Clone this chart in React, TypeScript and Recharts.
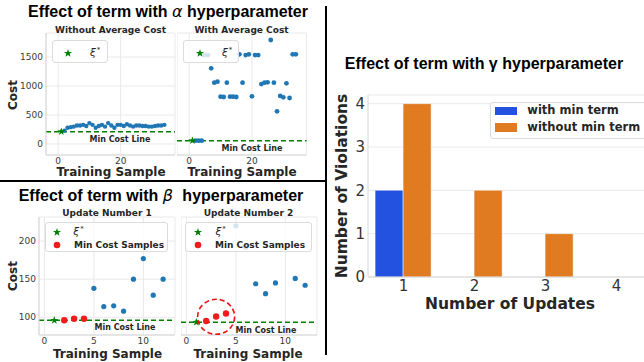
import React from "react";
import {
  Bar,
  BarChart,
  CartesianGrid,
  ReferenceLine,
  Scatter,
  ScatterChart,
  XAxis,
  YAxis,
} from "recharts";

// alpha panels: samples 2..34, star (xi*) sits on sample 1
const alphaSamples = [
  2, 3, 4, 5, 6, 7, 8, 9, 10, 11, 12, 13, 14, 15, 16, 17, 18, 19, 20, 21, 22,
  23, 24, 25, 26, 27, 28, 29, 30, 31, 32, 33, 34,
];
const costWithoutAvg = [
  230, 280, 290, 300, 320, 320, 330, 310, 360, 330, 280, 310, 330, 300, 360,
  320, 280, 330, 330, 310, 340, 320, 300, 320, 320, 310, 310, 300, 300, 310,
  320, 320, 330,
];
const costWithAvg = [
  57, 57, 57, 1534, 1534, 1305, 1057, 1074, 816, 810, 1057, 816, 816, 810, 1546,
  1057, 1534, 1546, 822, 1534, 1534, 1034, 1057, 1063, 1793, 1057, 563, 828,
  805, 1046, 793, 1546, 1546,
];
const alphaStarSample = [1];
const alphaMinCost = [212, 57];

// beta panels
const betaStarSample = [1];
const betaMinCost = [96, 93.5];
const minSamples = [2, 3, 4];
const update1MinCost = [96, 98, 98];
const update2MinCost = [95, 101, 105];
const update1Samples = [5, 6, 7, 8, 9, 10, 11, 12];
const update1Cost = [138, 114, 115, 108, 150, 177, 129, 150];
const update2Samples = [5, 6, 7, 8, 9, 11, 12];
const update2Cost = [220, 192, 144, 131, 145, 151, 142];
const highlightSample = [3];
const highlightCost = [100.6];

// gamma bars
const updates = ["1", "2", "3", "4"];
const violationsWithMin = [2, 0, 0, 0];
const violationsWithoutMin = [4, 2, 1, 0];

const BLUE = "#1f77b4";
const GREEN = "#008000";
const GRID = "#e9e9e9";
const SPINE = "#d6d6d6";
const DARK = "#262626";
const TICK = { fontSize: 9, fill: "#3a3a3a", fontFamily: "DejaVu Sans" };

type Pt = { x: number; cost: number };

const pts = (xs: number[], ys: number[]): Pt[] =>
  xs.map((x, i) => ({ x, cost: ys[i] }));

function starPoints(cx: number, cy: number, r: number) {
  const out: string[] = [];
  for (let i = 0; i < 10; i++) {
    const rad = i % 2 === 0 ? r : r * 0.4;
    const a = -Math.PI / 2 + (i * Math.PI) / 5;
    out.push(`${cx + rad * Math.cos(a)},${cy + rad * Math.sin(a)}`);
  }
  return out.join(" ");
}

const dotShape = (r: number, fill: string) => (p: any) =>
  <circle cx={p.cx} cy={p.cy} r={r} fill={fill} />;

const starShape = (r: number) => (p: any) =>
  <polygon points={starPoints(p.cx, p.cy, r)} fill={GREEN} />;

const ringShape = (p: any) => (
  <ellipse
    cx={p.cx}
    cy={p.cy}
    rx={18.5}
    ry={17.5}
    fill="none"
    stroke="#ee1111"
    strokeWidth={1.6}
    strokeDasharray="5 3"
  />
);

type Box = { x0: number; y0: number; left: number; right: number; top: number; bottom: number };

type PanelProps = {
  box: Box;
  xDomain: [number, number];
  xTicks: number[];
  yDomain: [number, number];
  yTicks: number[];
  showYTicks: boolean;
  minCost: number;
  star: Pt[];
  others: Pt[];
  dotR: number;
  mins?: Pt[];
  ring?: Pt[];
};

function CostPanel(p: PanelProps) {
  const { x0, y0, left, right, top, bottom } = p.box;
  const xAxisH = 30;
  return (
    <div style={{ position: "absolute", left: x0, top: y0 }}>
      <ScatterChart
        width={right - x0 + 2}
        height={bottom - y0 + xAxisH}
        margin={{ top: top - y0, right: 2, bottom: 0, left: 0 }}
      >
        <CartesianGrid stroke={GRID} />
        <XAxis
          type="number"
          dataKey="x"
          domain={p.xDomain}
          ticks={p.xTicks}
          allowDataOverflow
          height={xAxisH}
          tickSize={0}
          tickMargin={3}
          tick={TICK}
          axisLine={{ stroke: SPINE }}
        />
        <YAxis
          type="number"
          dataKey="cost"
          domain={p.yDomain}
          ticks={p.yTicks}
          allowDataOverflow
          width={left - x0}
          tickSize={0}
          tickMargin={3}
          tick={p.showYTicks ? TICK : false}
          axisLine={{ stroke: SPINE }}
        />
        <ReferenceLine y={p.minCost} stroke={GREEN} strokeWidth={1.5} strokeDasharray="5 3" />
        <Scatter data={p.others} shape={dotShape(p.dotR, BLUE)} isAnimationActive={false} />
        {p.mins && (
          <Scatter data={p.mins} shape={dotShape(3.2, "#ee1c1c")} isAnimationActive={false} />
        )}
        <Scatter data={p.star} shape={starShape(4.2)} isAnimationActive={false} />
        {p.ring && <Scatter data={p.ring} shape={ringShape} isAnimationActive={false} />}
      </ScatterChart>
    </div>
  );
}

function Txt(props: {
  x: number;
  y: number;
  size: number;
  bold?: boolean;
  family?: string;
  color?: string;
  rotate?: boolean;
  anchor?: "middle" | "start";
  children: React.ReactNode;
}) {
  const tx = props.anchor === "start" ? "0" : "-50%";
  return (
    <div
      style={{
        position: "absolute",
        left: props.x,
        top: props.y,
        transform: `translate(${tx},-50%)${props.rotate ? " rotate(-90deg)" : ""}`,
        fontSize: props.size,
        fontWeight: props.bold ? 700 : 400,
        fontFamily: props.family ?? "DejaVu Sans",
        color: props.color ?? DARK,
        whiteSpace: "nowrap",
        lineHeight: 1,
      }}
    >
      {props.children}
    </div>
  );
}

const Xi = () => (
  <span style={{ fontFamily: "DejaVu Sans", fontSize: 10.5 }}>
    <span style={{ fontStyle: "italic" }}>ξ</span>
    <span style={{ fontSize: 7, position: "relative", top: -4, marginLeft: 1 }}>*</span>
  </span>
);

function LegendFrame(props: { l: number; t: number; w: number; h: number }) {
  return (
    <div
      style={{
        position: "absolute",
        left: props.l,
        top: props.t,
        width: props.w,
        height: props.h,
        boxSizing: "border-box",
        background: "rgba(255,255,255,0.8)",
        border: "1px solid #dcdcdc",
        borderRadius: 3,
      }}
    />
  );
}

function Mark(props: { x: number; y: number; kind: "star" | "dot" }) {
  return (
    <svg
      width={12}
      height={12}
      style={{ position: "absolute", left: props.x - 6, top: props.y - 6 }}
    >
      {props.kind === "star" ? (
        <polygon points={starPoints(6, 6.3, 4.3)} fill={GREEN} />
      ) : (
        <circle cx={6} cy={6} r={3.3} fill="#ee1c1c" />
      )}
    </svg>
  );
}

const italicGreek = { fontFamily: "DejaVu Sans", fontStyle: "italic" as const, fontWeight: 400 };

export default function App() {
  const topY: [number, number] = [-190, 1914];
  const botY: [number, number] = [76.7, 231.6];
  const barRows = updates.map((u, i) => ({
    update: u,
    withMin: violationsWithMin[i],
    withoutMin: violationsWithoutMin[i],
  }));

  return (
    <div
      style={{
        position: "absolute",
        left: 0,
        top: 0,
        width: 644,
        height: 362,
        overflow: "hidden",
        background: "#fff",
        fontFamily: "DejaVu Sans",
      }}
    >
      <CostPanel
        box={{ x0: 0, y0: 0, left: 46, right: 175, top: 33, bottom: 155 }}
        xDomain={[-3.9, 37.4]}
        xTicks={[0, 20]}
        yDomain={topY}
        yTicks={[0, 500, 1000, 1500]}
        showYTicks
        minCost={alphaMinCost[0]}
        star={pts(alphaStarSample, [alphaMinCost[0]])}
        others={pts(alphaSamples, costWithoutAvg)}
        dotR={2.2}
      />
      <CostPanel
        box={{ x0: 176.5, y0: 0, left: 176.5, right: 306, top: 33, bottom: 155 }}
        xDomain={[-3.9, 37.4]}
        xTicks={[0, 20]}
        yDomain={topY}
        yTicks={[0, 500, 1000, 1500]}
        showYTicks={false}
        minCost={alphaMinCost[1]}
        star={pts(alphaStarSample, [alphaMinCost[1]])}
        others={pts(alphaSamples, costWithAvg)}
        dotR={2.4}
      />
      <CostPanel
        box={{ x0: 0, y0: 181, left: 39, right: 175, top: 217, bottom: 335 }}
        xDomain={[-0.55, 13.2]}
        xTicks={[0, 5, 10]}
        yDomain={botY}
        yTicks={[100, 150, 200]}
        showYTicks
        minCost={betaMinCost[0]}
        star={pts(betaStarSample, [betaMinCost[0]])}
        others={pts(update1Samples, update1Cost)}
        mins={pts(minSamples, update1MinCost)}
        dotR={2.6}
      />
      <CostPanel
        box={{ x0: 180.7, y0: 181, left: 180.7, right: 316.7, top: 217, bottom: 335 }}
        xDomain={[-0.55, 13.2]}
        xTicks={[0, 5, 10]}
        yDomain={botY}
        yTicks={[100, 150, 200]}
        showYTicks={false}
        minCost={betaMinCost[1]}
        star={pts(betaStarSample, [betaMinCost[1]])}
        others={pts(update2Samples, update2Cost)}
        mins={pts(minSamples, update2MinCost)}
        ring={pts(highlightSample, highlightCost)}
        dotR={2.6}
      />

      <div style={{ position: "absolute", left: 330, top: 40 }}>
        <BarChart
          width={324}
          height={280}
          data={barRows}
          margin={{ top: 55, right: 2, bottom: 0, left: 0 }}
          barCategoryGap="10%"
          barGap={0}
        >
          <CartesianGrid stroke={GRID} vertical={false} />
          <XAxis
            dataKey="update"
            height={43}
            tickSize={0}
            tickMargin={3}
            tick={{ fontSize: 15, fill: "#333", fontFamily: "DejaVu Sans" }}
            axisLine={{ stroke: SPINE }}
          />
          <YAxis
            type="number"
            domain={[0, 4.2]}
            ticks={[0, 1, 2, 3, 4]}
            allowDataOverflow
            width={38}
            tickSize={0}
            tickMargin={3}
            tick={{ fontSize: 15, fill: "#333", fontFamily: "DejaVu Sans" }}
            axisLine={{ stroke: SPINE }}
          />
          <Bar
            dataKey="withMin"
            fill="#2352e0"
            stroke="#ffffff"
            strokeOpacity={0.45}
            isAnimationActive={false}
          />
          <Bar
            dataKey="withoutMin"
            fill="#e07b21"
            stroke="#ffffff"
            strokeOpacity={0.45}
            isAnimationActive={false}
          />
        </BarChart>
      </div>

      {/* panel separators */}
      <div style={{ position: "absolute", left: 325, top: 6, width: 2, height: 349, background: "#000" }} />
      <div style={{ position: "absolute", left: 0, top: 180, width: 326, height: 2, background: "#000" }} />

      {/* titles */}
      <Txt x={168} y={11.7} size={16} bold family="Liberation Sans" color="#000">
        Effect of term with <span style={italicGreek}>α</span> hyperparameter
      </Txt>
      <Txt x={161} y={196} size={16} bold family="Liberation Sans" color="#000">
        Effect of term with <span style={{ ...italicGreek, marginRight: 5 }}>β</span> hyperparameter
      </Txt>
      <Txt x={484} y={64} size={16} bold family="Liberation Sans" color="#000">
        Effect of term with γ hyperparameter
      </Txt>

      <Txt x={110.5} y={30} size={9} bold>Without Average Cost</Txt>
      <Txt x={241.5} y={30} size={9} bold>With Average Cost</Txt>
      <Txt x={107} y={212.5} size={9} bold>Update Number 1</Txt>
      <Txt x={248.5} y={212.5} size={9} bold>Update Number 2</Txt>

      <Txt x={111} y={172} size={12} bold>Training Sample</Txt>
      <Txt x={242} y={172} size={12} bold>Training Sample</Txt>
      <Txt x={107.5} y={353.5} size={12} bold>Training Sample</Txt>
      <Txt x={248} y={353.5} size={12} bold>Training Sample</Txt>
      <Txt x={12.5} y={95} size={12} bold rotate>Cost</Txt>
      <Txt x={12.5} y={276} size={12} bold rotate>Cost</Txt>

      <Txt x={120} y={140} size={8} bold>Min Cost Line</Txt>
      <Txt x={252} y={149} size={8} bold>Min Cost Line</Txt>
      <Txt x={125} y={327.7} size={8} bold>Min Cost Line</Txt>
      <Txt x={266} y={330.7} size={8} bold>Min Cost Line</Txt>

      {/* scatter legends */}
      <LegendFrame l={52.3} t={40} w={56} h={23.3} />
      <Mark x={68.3} y={52.5} kind="star" />
      <Txt x={90} y={52} size={10.5} anchor="start"><Xi /></Txt>

      <LegendFrame l={183.3} t={40} w={56} h={23.3} />
      <Mark x={200} y={52.5} kind="star" />
      <Txt x={222} y={52} size={10.5} anchor="start"><Xi /></Txt>

      <LegendFrame l={45} t={221.7} w={123.3} h={30} />
      <Mark x={56.7} y={231.7} kind="star" />
      <Txt x={73.3} y={230.5} size={10.5} anchor="start"><Xi /></Txt>
      <Mark x={56.7} y={245} kind="dot" />
      <Txt x={74} y={245} size={9} bold anchor="start">Min Cost Samples</Txt>

      <LegendFrame l={185} t={221.7} w={126.7} h={30} />
      <Mark x={197.7} y={231.7} kind="star" />
      <Txt x={215.5} y={230.5} size={10.5} anchor="start"><Xi /></Txt>
      <Mark x={197.7} y={245} kind="dot" />
      <Txt x={215} y={245} size={9} bold anchor="start">Min Cost Samples</Txt>

      {/* bar chart labels and legend */}
      <Txt x={343} y={186} size={15.5} bold rotate>Number of Violations</Txt>
      <Txt x={510} y={305} size={15.5} bold>Number of Updates</Txt>

      <LegendFrame l={490} t={101.7} w={170} h={37.6} />
      <div style={{ position: "absolute", left: 495, top: 107.3, width: 22.3, height: 7.7, background: "#2352e0" }} />
      <div style={{ position: "absolute", left: 495, top: 123.3, width: 22.3, height: 8.3, background: "#e07b21" }} />
      <Txt x={527.3} y={111} size={11.5} bold anchor="start">with min term</Txt>
      <Txt x={527.3} y={127.5} size={11.5} bold anchor="start">without min term</Txt>
    </div>
  );
}
